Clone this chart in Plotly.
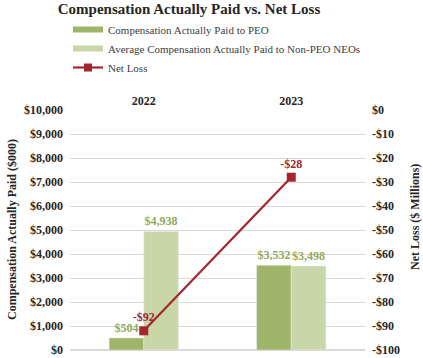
import plotly.graph_objects as go

years = ["2022", "2023"]
peo_cap = [504, 3532]
neo_cap = [4938, 3498]
net_loss = [-92, -28]

left_ticks = [0, 1000, 2000, 3000, 4000, 5000, 6000, 7000, 8000, 9000, 10000]
right_ticks = [0, -10, -20, -30, -40, -50, -60, -70, -80, -90, -100]

FONT = "Liberation Serif, Times New Roman, serif"
C_PEO = "#9fb56a"
C_NEO = "#c9d6a8"
C_LINE = "#a3262d"
C_LBL = "#93a95c"
C_TXT = "#262626"
W, H = 423, 358

def money(v):
    return f"-${abs(v):,}" if v < 0 else f"${v:,}"

fig = go.Figure()
fig.add_trace(go.Bar(
    x=years, y=peo_cap, marker_color=C_PEO, showlegend=False,
    text=[money(v) for v in peo_cap], textposition="outside", cliponaxis=False,
    textfont=dict(family=FONT, size=12, color=C_LBL, weight="bold"),
))
fig.add_trace(go.Bar(
    x=years, y=neo_cap, marker_color=C_NEO, showlegend=False,
    text=[money(v) for v in neo_cap], textposition="outside", cliponaxis=False,
    textfont=dict(family=FONT, size=12, color=C_LBL, weight="bold"),
))
fig.add_trace(go.Scatter(
    x=years, y=net_loss, yaxis="y2", mode="lines+markers+text", showlegend=False,
    line=dict(color=C_LINE, width=2.2), marker=dict(symbol="square", size=9, color=C_LINE),
    text=[money(v) for v in net_loss], textposition="top center", cliponaxis=False,
    textfont=dict(family=FONT, size=12, color=C_LINE, weight="bold"),
))
# legend entries
fig.add_trace(go.Scatter(x=[None], y=[None], mode="lines", name="Compensation Actually Paid to PEO",
                         line=dict(color=C_PEO, width=6)))
fig.add_trace(go.Scatter(x=[None], y=[None], mode="lines", name="Average Compensation Actually Paid to Non-PEO NEOs",
                         line=dict(color=C_NEO, width=6)))
fig.add_trace(go.Scatter(x=[None], y=[None], mode="lines+markers", name="Net Loss",
                         line=dict(color=C_LINE, width=2.2), marker=dict(symbol="square", size=8, color=C_LINE)))

fig.update_layout(
    width=W, height=H,
    margin=dict(l=70, r=58, t=110, b=8, autoexpand=False),
    paper_bgcolor="white", plot_bgcolor="white",
    barmode="group", bargap=0.53, bargroupgap=0,
    font=dict(family=FONT, color=C_TXT),
    title=dict(text="Compensation Actually Paid vs. Net Loss", x=189 / W, xanchor="center",
               y=1 - 3 / H, yanchor="top", xref="container", yref="container",
               font=dict(family=FONT, size=15, color=C_TXT, weight="bold")),
    legend=dict(x=68 / W, xanchor="left", y=1 - 15 / H, yanchor="top",
                xref="container", yref="container",
                font=dict(family=FONT, size=11, color="#404040"),
                bgcolor="rgba(0,0,0,0)", itemwidth=30, tracegroupgap=0),
    xaxis=dict(type="category", side="top", showgrid=False, showline=False, ticks="",
               automargin=False,
               tickfont=dict(family=FONT, size=12, color=C_TXT, weight="bold"),
               ticklabelstandoff=2),
    yaxis=dict(range=[0, 10000], tickvals=left_ticks, ticktext=[money(v) for v in left_ticks],
               showgrid=True, gridcolor="#d9d9d9", gridwidth=1, zeroline=True, zerolinecolor="#d9d9d9",
               showline=False, ticks="", ticklabelstandoff=6, automargin=False,
               tickfont=dict(family=FONT, size=12, color=C_TXT, weight="bold")),
    yaxis2=dict(range=[-100, 0], overlaying="y", side="right", tickvals=right_ticks,
                ticktext=[money(v) for v in right_ticks], showgrid=False, zeroline=False,
                showline=False, ticks="", ticklabelstandoff=6, automargin=False,
                tickfont=dict(family=FONT, size=12, color=C_TXT, weight="bold")),
    annotations=[
        dict(text="Compensation Actually Paid ($000)", xref="paper", yref="paper",
             x=(12 - 70) / 295, y=0.5, xanchor="center", yanchor="middle", textangle=-90,
             showarrow=False, font=dict(family=FONT, size=12, color=C_TXT, weight="bold")),
        dict(text="Net Loss ($ Millions)", xref="paper", yref="paper",
             x=(415 - 70) / 295, y=(350 - 217) / 240, xanchor="center", yanchor="middle",
             textangle=-90, showarrow=False,
             font=dict(family=FONT, size=12, color=C_TXT, weight="bold")),
    ],
)

fig.write_html("out.html", config={"displayModeBar": False},
               post_script="document.body.style.margin='0';document.body.style.overflow='hidden';")
